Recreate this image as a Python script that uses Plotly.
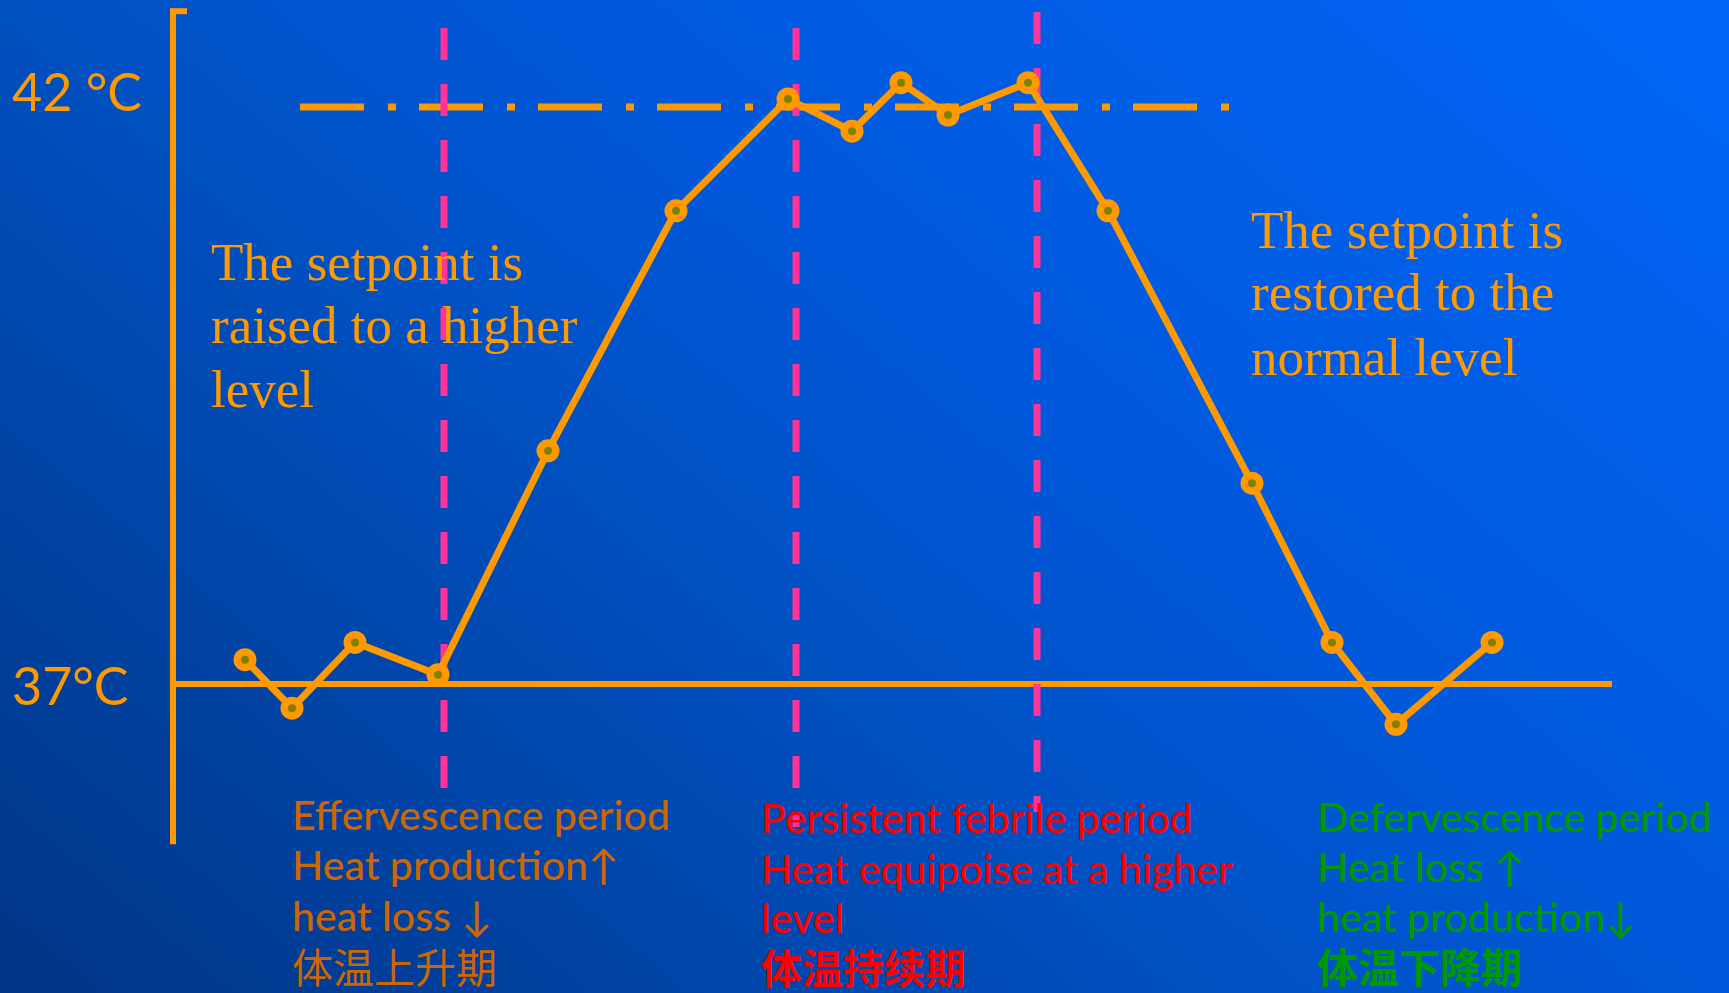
import base64
import plotly.graph_objects as go

# Body temperature course through the three phases of fever
time_units = [7.2, 11.9, 18.2, 26.5, 37.5, 50.3, 61.5, 67.9, 72.8, 77.5, 85.5, 93.5, 107.9, 115.9, 122.3, 131.9]
temperature_c = [37.21, 36.79, 37.36, 37.08, 39.02, 41.10, 42.07, 41.79, 42.21, 41.93, 42.21, 41.10, 38.74, 37.36, 36.65, 37.36]

normal_temp = 37.0
setpoint_high = 42.0
phase_bounds = [27.1, 62.3, 86.4]
phase_line_tops = [42.685, 42.685, 42.823]
phase_line_bottoms = [36.099, 35.761, 35.891]

W, H = 1729, 993
X_RANGE = [-17.3, 155.6]
Y_RANGE = [34.322, 42.927]

ORANGE = "#FF9900"
PINK = "#FF3399"
OLIVE = "#808000"

fig = go.Figure()

fig.add_trace(go.Scatter(
    x=time_units, y=temperature_c, mode="lines+markers",
    line=dict(color=ORANGE, width=7),
    marker=dict(size=23, color=ORANGE, line=dict(width=0)),
    hoverinfo="skip", showlegend=False,
))
fig.add_trace(go.Scatter(
    x=time_units, y=temperature_c, mode="markers",
    marker=dict(size=8, color=OLIVE, line=dict(width=0)),
    hoverinfo="skip", showlegend=False,
))

shapes = []
# vertical temperature axis with a short cap at the top
shapes.append(dict(type="line", xref="x", yref="y", x0=0, x1=0, y0=42.83, y1=35.61,
                   line=dict(color=ORANGE, width=6), layer="below"))
shapes.append(dict(type="line", xref="x", yref="y", x0=-0.3, x1=1.4, y0=42.83, y1=42.83,
                   line=dict(color=ORANGE, width=6), layer="below"))
# normal body temperature baseline
shapes.append(dict(type="line", xref="x", yref="y", x0=0, x1=143.9, y0=normal_temp, y1=normal_temp,
                   line=dict(color=ORANGE, width=6), layer="below"))
# raised setpoint
shapes.append(dict(type="line", xref="x", yref="y", x0=12.7, x1=106.2, y0=setpoint_high, y1=setpoint_high,
                   line=dict(color=ORANGE, width=7, dash="64px,24px,8px,23px"), layer="below"))
# phase boundaries
for xb, yt, yb in zip(phase_bounds, phase_line_tops, phase_line_bottoms):
    shapes.append(dict(type="line", xref="x", yref="y", x0=xb, x1=xb, y0=yt, y1=yb,
                       line=dict(color=PINK, width=7, dash="32px,24px"), layer="below"))


def px(xp):
    return xp / W


def py(yp):
    return 1 - yp / H


annotations = []


def label(text, x, y_mid, size, color, family, weight="normal"):
    annotations.append(dict(
        text=text, xref="paper", yref="paper", x=px(x), y=py(y_mid),
        xanchor="left", yanchor="middle", showarrow=False,
        font=dict(size=size, color=color, family=family, weight=weight),
    ))


SANS = "Lato, 'Open Sans', sans-serif"
SERIF = "'Liberation Serif', 'Times New Roman', serif"
# Lato first keeps the line box compact; the glyphs come from the CJK face
CJK = "Lato, 'Noto Sans CJK SC', sans-serif"

label("42 °C", 10, 91, 52, ORANGE, SANS)
label("37°C", 10, 685, 52, ORANGE, SANS)

serif_size = 53
for i, line in enumerate(["The setpoint is", "raised to a higher", "level"]):
    label(line, 209, [262, 325, 389][i], serif_size, ORANGE, SERIF)
for i, line in enumerate(["The setpoint is", "restored to the", "normal level"]):
    label(line, 1249, [230, 292, 357][i], serif_size, ORANGE, SERIF)

latin_size = 41
cjk_size = 41

rise = ["Effervescence period", "Heat production↑", "heat loss ↓"]
for i, line in enumerate(rise):
    label(line, 290, [814, 864, 915][i], latin_size, "#CC6600", SANS, 500)
label("体温上升期", 290, 967, cjk_size, "#CC6600", CJK)

plateau = ["Persistent febrile period", "Heat equipoise at a higher", "level"]
for i, line in enumerate(plateau):
    label(line, 759, [817, 868, 917][i], latin_size, "#FF0000", SANS, 500)
label("体温持续期", 759, 968, cjk_size, "#FF0000", CJK, "bold")

fall = ["Defervescence period", "Heat loss ↑", "heat production↓"]
for i, line in enumerate(fall):
    label(line, 1315, [816, 866, 916][i], latin_size, "#009900", SANS, 500)
label("体温下降期", 1315, 967, cjk_size, "#009900", CJK, "bold")

# diagonal blue backdrop
svg = (
    '<svg xmlns="http://www.w3.org/2000/svg" width="1729" height="993" preserveAspectRatio="none">'
    '<defs><linearGradient id="g" x1="0" y1="1" x2="1.143" y2="0.206">'
    '<stop offset="0" stop-color="#003585"/>'
    '<stop offset="0.41" stop-color="#0050C0"/>'
    '<stop offset="0.59" stop-color="#0058DA"/>'
    '<stop offset="1" stop-color="#0066F8"/>'
    '</linearGradient></defs>'
    '<rect width="1729" height="993" fill="url(#g)"/></svg>'
)
bg_src = "data:image/svg+xml;base64," + base64.b64encode(svg.encode()).decode()

fig.update_layout(
    width=W, height=H,
    margin=dict(l=0, r=0, t=0, b=0),
    paper_bgcolor="#004EC4",
    plot_bgcolor="rgba(0,0,0,0)",
    xaxis=dict(range=X_RANGE, visible=False, fixedrange=True),
    yaxis=dict(range=Y_RANGE, visible=False, fixedrange=True),
    shapes=shapes,
    annotations=annotations,
    images=[dict(source=bg_src, xref="paper", yref="paper", x=0, y=1,
                 sizex=1, sizey=1, sizing="stretch", xanchor="left", yanchor="top",
                 layer="below")],
    showlegend=False,
)

fig.write_html("out.html", config={"displayModeBar": False})
